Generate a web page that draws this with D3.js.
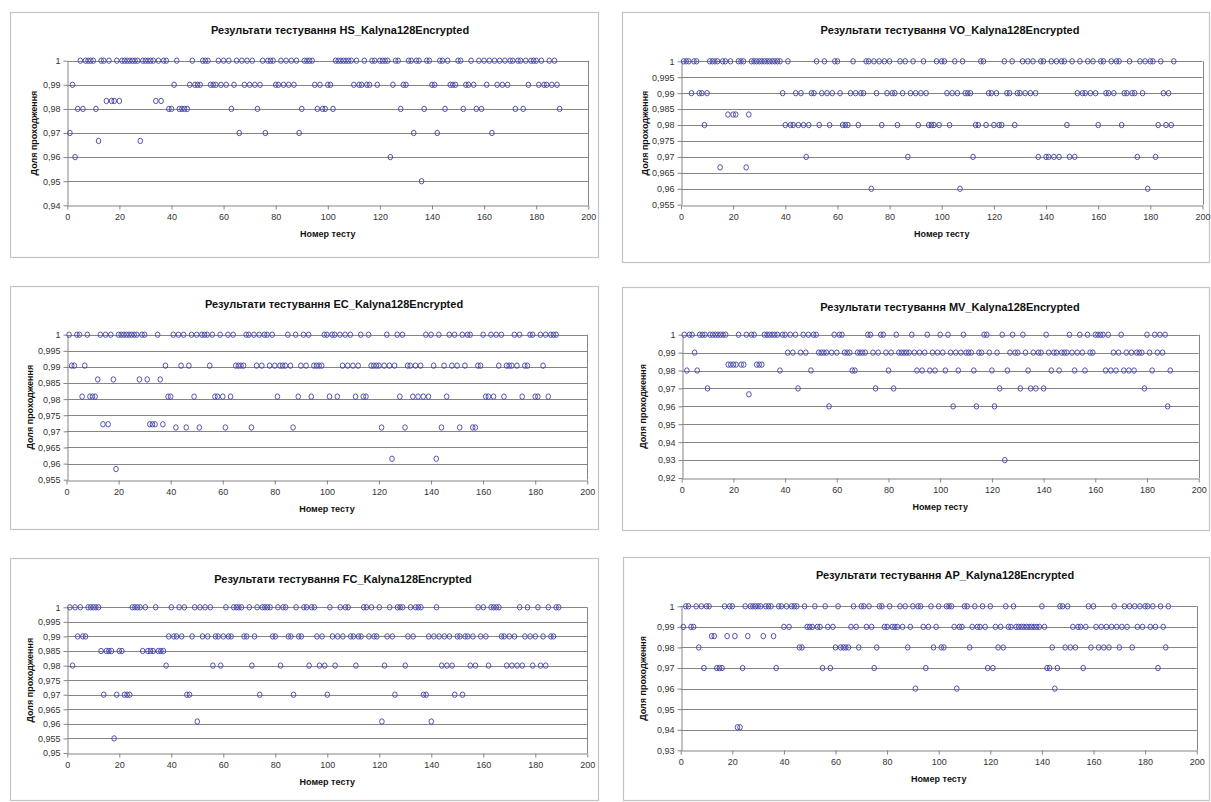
<!DOCTYPE html>
<html>
<head>
<meta charset="utf-8">
<script src="https://cdn.jsdelivr.net/npm/d3@7"></script>
<style>
  body { margin: 0; background: #ffffff; }
  text { font-family: "Liberation Sans", Arial, sans-serif; }
</style>
</head>
<body>
<svg id="chart" width="1211" height="802"></svg>
<script>
// Proportion of passing sequences per test, one value per test number
const hsValues = [
  0.97,0.99,0.96,0.98,1,0.98,1,1,1,1,
  0.98,0.9667,1,1,0.9833,1,0.9833,0.9833,1,0.9833,
  1,1,1,1,1,1,1,0.9667,1,1,
  1,1,1,0.9833,1,0.9833,1,1,0.98,0.98,
  0.99,1,0.98,0.98,0.98,0.98,0.99,1,0.99,0.99,
  0.99,1,1,1,0.99,0.99,0.99,1,0.99,1,
  0.99,1,0.98,0.99,1,0.97,1,0.99,1,0.99,
  1,0.99,0.98,0.99,1,0.97,1,1,1,0.99,
  0.99,1,0.99,1,0.99,1,0.99,1,0.97,0.98,
  1,1,1,1,0.99,0.98,0.99,0.98,0.98,0.99,
  0.99,0.98,1,1,1,1,1,1,1,0.99,
  1,0.99,0.99,1,0.99,0.99,1,1,0.99,1,
  1,1,1,0.96,0.99,1,1,0.98,0.99,0.99,
  1,1,0.97,1,1,0.95,0.98,1,1,0.99,
  0.99,0.97,1,1,0.98,1,0.99,0.99,0.99,1,
  1,0.98,0.99,0.99,1,0.99,0.98,1,0.98,1,
  0.99,1,0.97,1,0.99,1,0.99,1,0.99,1,
  1,0.98,1,1,0.98,1,0.99,1,1,1,
  0.99,1,0.99,0.99,1,0.99,1,0.99,0.98
];
const voValues = [
  1,1,1,0.99,1,1,0.99,0.99,0.98,0.99,
  1,1,1,1,0.9667,1,1,0.9833,1,0.9833,
  0.9833,1,1,1,0.9667,0.9833,1,1,1,1,
  1,1,1,1,1,1,1,1,0.99,0.98,
  1,0.98,0.98,0.99,0.98,0.99,0.98,0.97,0.98,0.99,
  0.99,1,0.98,0.99,1,0.99,0.98,0.99,1,1,
  0.99,0.98,0.98,0.98,0.99,1,0.99,0.98,0.99,0.99,
  1,1,0.96,1,0.99,1,0.98,1,0.99,1,
  0.99,0.99,0.98,1,0.99,1,0.97,0.99,1,0.99,
  0.98,0.99,1,0.99,0.98,0.98,0.98,1,0.98,1,
  1,0.99,0.98,0.99,1,0.99,0.96,1,0.99,0.99,
  0.99,0.97,0.98,0.98,1,1,0.98,0.99,0.99,0.98,
  0.99,0.98,0.98,1,0.99,0.99,1,0.98,0.99,0.99,
  1,0.99,1,0.99,1,0.99,0.97,1,1,0.97,
  0.97,1,0.97,1,0.97,1,1,0.98,0.97,1,
  0.97,0.99,1,0.99,0.99,1,0.99,1,0.99,0.98,
  1,1,0.99,0.99,1,0.99,1,1,0.98,0.99,
  0.99,1,0.99,0.99,0.97,1,0.99,1,0.96,1,
  1,0.97,0.98,1,0.99,0.98,0.99,0.98,1
];
const ecValues = [
  1,0.9904,0.9904,1,1,0.9808,0.9904,1,0.9808,0.9808,
  0.9808,0.9861,1,0.9722,1,0.9722,1,0.9861,0.9583,1,
  1,1,1,1,1,1,1,0.9861,1,1,
  0.9861,0.9722,0.9722,0.9722,1,0.9861,0.9722,0.9904,0.9808,0.9808,
  1,0.9712,1,0.9904,1,0.9712,0.9904,1,0.9808,1,
  0.9712,1,1,1,0.9904,1,0.9808,0.9808,1,0.9808,
  0.9712,1,0.9808,1,0.9904,0.9904,0.9904,0.9904,1,1,
  0.9712,1,0.9904,1,0.9904,1,1,0.9904,1,0.9904,
  0.9808,0.9904,0.9904,0.9904,1,0.9904,0.9712,1,0.9808,0.9904,
  1,0.9904,1,0.9808,0.9904,0.9904,0.9904,0.9904,1,1,
  0.9808,1,1,0.9808,1,0.9904,1,0.9904,1,0.9904,
  0.9808,0.9904,1,0.9808,0.9808,1,0.9904,0.9904,0.9904,0.9904,
  0.9712,0.9904,1,0.9904,0.9615,0.9904,1,0.9808,1,0.9712,
  0.9904,0.9904,0.9808,0.9904,0.9808,0.9904,0.9808,1,0.9808,1,
  0.9904,0.9615,1,0.9712,0.9904,0.9808,1,0.9904,1,0.9904,
  0.9712,1,0.9904,1,1,0.9712,0.9712,0.9904,0.9904,1,
  0.9808,0.9808,1,0.9808,1,0.9904,1,0.9808,0.9904,0.9904,
  0.9904,1,0.9904,1,0.9808,0.9904,0.9904,1,1,0.9808,
  0.9808,1,0.9904,1,0.9808,1,1,1
];
const mvValues = [
  1,0.98,1,1,0.99,0.98,1,1,1,0.97,
  1,1,1,1,1,1,1,0.9833,0.9833,0.9833,
  0.9833,1,0.9833,0.9833,1,0.9667,1,1,0.9833,0.9833,
  0.9833,1,1,1,1,1,1,0.98,1,1,
  0.99,1,0.99,1,0.97,0.99,1,0.99,1,0.98,
  1,1,0.99,0.99,0.99,0.99,0.96,0.99,1,0.99,
  1,1,0.99,0.99,0.99,0.98,0.98,0.99,0.99,0.99,
  0.99,1,1,0.99,0.97,0.99,1,1,0.99,0.98,
  0.99,0.97,1,0.99,0.99,0.99,0.99,0.99,1,0.99,
  0.98,0.99,0.98,0.99,1,0.98,0.99,0.98,0.99,1,
  0.99,0.98,1,0.99,0.96,0.99,0.98,0.99,1,0.99,
  0.99,0.99,0.98,0.96,0.99,0.99,1,1,0.99,0.98,
  0.96,0.99,0.97,1,0.93,0.98,0.99,1,0.99,0.99,
  0.97,1,0.99,0.98,0.97,0.99,0.97,0.99,0.99,0.97,
  1,0.99,0.98,0.99,0.99,0.98,0.99,0.99,0.99,1,
  0.99,0.98,0.99,1,0.99,0.98,1,0.99,0.99,1,
  1,1,1,0.98,1,0.98,0.99,0.98,0.99,1,
  0.98,0.99,0.98,0.99,0.98,0.99,0.99,0.99,0.97,1,
  0.99,0.98,1,0.99,1,0.99,1,0.96,0.98
];
const fcValues = [
  1,0.98,1,0.99,1,0.99,0.99,1,1,1,
  1,1,0.985,0.97,0.985,0.985,0.985,0.955,0.97,0.985,
  0.985,0.97,0.97,0.97,1,1,1,1,0.985,1,
  0.985,0.985,0.985,1,0.985,0.985,0.985,0.98,0.99,1,
  0.99,0.99,1,0.99,1,0.97,0.97,0.99,1,0.9608,
  1,0.99,1,0.99,1,0.98,0.99,0.99,0.98,0.99,
  1,0.99,0.99,1,1,1,1,0.99,0.99,1,
  0.98,0.99,1,0.97,1,1,1,1,0.99,0.99,
  1,0.98,1,1,0.99,0.99,0.97,1,0.99,0.99,
  1,1,0.98,1,1,0.99,0.98,0.99,0.98,0.97,
  1,0.99,0.98,0.99,1,0.99,1,1,0.99,0.99,
  0.98,0.99,0.99,1,1,0.99,1,0.99,0.99,1,
  0.9608,0.98,0.99,1,0.99,0.97,1,1,1,0.98,
  0.99,1,0.99,1,1,1,0.97,0.97,0.99,0.9608,
  0.99,1,0.99,0.98,0.99,0.98,0.99,0.98,0.97,0.99,
  0.99,0.97,0.99,0.99,0.98,0.99,0.98,1,0.99,1,
  0.99,0.98,1,1,1,1,0.99,0.99,0.98,0.99,
  0.98,0.99,0.98,1,0.98,0.99,1,0.99,0.98,0.99,
  1,0.98,0.99,0.98,1,0.99,0.99,1,1
];
const apValues = [
  0.99,1,1,0.99,0.99,1,0.98,1,0.97,1,
  1,0.9855,0.9855,0.97,0.97,0.97,1,0.9855,1,1,
  0.9855,0.9412,0.9412,0.97,1,0.9855,1,1,1,1,
  1,0.9855,1,1,1,0.9855,0.97,1,1,0.99,
  1,0.99,1,1,1,0.98,0.98,1,0.99,0.99,
  0.99,1,0.99,0.99,0.97,1,0.99,0.97,0.99,0.98,
  1,0.98,0.98,0.98,0.98,0.99,1,0.99,0.98,1,
  1,0.99,1,0.99,0.97,0.98,1,1,0.99,0.99,
  1,0.99,0.99,0.99,1,0.99,1,0.98,0.99,1,
  0.96,1,1,0.99,0.97,0.99,1,0.98,0.99,1,
  0.98,0.98,1,1,1,0.99,0.96,0.99,0.99,1,
  1,0.98,0.99,1,0.99,0.99,1,0.99,0.97,1,
  0.97,0.99,0.98,0.99,0.98,1,0.99,0.99,1,0.99,
  0.99,0.99,0.99,0.99,0.99,0.99,0.99,0.99,0.99,1,
  0.99,0.97,0.97,0.98,0.96,0.97,1,1,0.98,1,
  0.98,0.99,0.98,0.99,0.99,0.97,0.99,1,0.98,1,
  0.99,0.98,0.99,0.98,0.99,0.98,0.99,1,0.99,0.98,
  0.99,1,0.99,1,0.98,1,0.99,1,0.99,1,
  1,0.99,1,0.99,0.97,1,0.99,0.98,1
];

// Axis ticks
const xTicks = [0, 20, 40, 60, 80, 100, 120, 140, 160, 180, 200];
const hsTicks = [0.94, 0.95, 0.96, 0.97, 0.98, 0.99, 1];
const voTicks = [0.955, 0.96, 0.965, 0.97, 0.975, 0.98, 0.985, 0.99, 0.995, 1];
const ecTicks = [0.955, 0.96, 0.965, 0.97, 0.975, 0.98, 0.985, 0.99, 0.995, 1];
const mvTicks = [0.92, 0.93, 0.94, 0.95, 0.96, 0.97, 0.98, 0.99, 1];
const fcTicks = [0.95, 0.955, 0.96, 0.965, 0.97, 0.975, 0.98, 0.985, 0.99, 0.995, 1];
const apTicks = [0.93, 0.94, 0.95, 0.96, 0.97, 0.98, 0.99, 1];

const titlePrefix = "Результати тестування ";
const seriesNames = ["HS", "VO", "EC", "MV", "FC", "AP"];
const yAxisTitle = "Доля проходження";
const xAxisTitle = "Номер тесту";

// Panel geometry: outer frame and plotting area (pixels)
const layout = [
  { frame: [10, 12, 588, 245],  plot: [67.3, 588.3, 60.7, 205.3], titleX: 340, titleY: 34,  yTitleX: 34 },
  { frame: [622, 12, 587, 250], plot: [681, 1202.5, 61.3, 204.7], titleX: 950, titleY: 34,  yTitleX: 645 },
  { frame: [10, 286, 588, 243], plot: [66.5, 587.3, 334.7, 479.7], titleX: 334, titleY: 308, yTitleX: 30 },
  { frame: [622, 287, 587, 243], plot: [681.7, 1198.7, 334.7, 478], titleX: 950, titleY: 311, yTitleX: 643 },
  { frame: [10, 558, 588, 242], plot: [67.3, 587.3, 607.3, 753], titleX: 343, titleY: 583, yTitleX: 30 },
  { frame: [623, 557, 586, 243], plot: [680.7, 1196.7, 606.3, 750.3], titleX: 945, titleY: 579, yTitleX: 643 }
];

const panels = [
  { name: seriesNames[0], values: hsValues, ticks: hsTicks },
  { name: seriesNames[1], values: voValues, ticks: voTicks },
  { name: seriesNames[2], values: ecValues, ticks: ecTicks },
  { name: seriesNames[3], values: mvValues, ticks: mvTicks },
  { name: seriesNames[4], values: fcValues, ticks: fcTicks },
  { name: seriesNames[5], values: apValues, ticks: apTicks }
];

const locale = d3.formatLocale({ decimal: ",", thousands: " ", grouping: [3], currency: ["", ""] });
const yFormat = locale.format("~g");

const svg = d3.select("#chart");
svg.append("rect").attr("width", 1211).attr("height", 802).attr("fill", "#ffffff");

panels.forEach((p, i) => {
  const L = layout[i];
  const [fx, fy, fw, fh] = L.frame;
  const [left, right, top, bottom] = L.plot;
  const g = svg.append("g");

  g.append("rect")
    .attr("x", fx + 0.5).attr("y", fy + 0.5)
    .attr("width", fw).attr("height", fh)
    .attr("fill", "#ffffff").attr("stroke", "#c4c4c4").attr("stroke-width", 1.2);

  const x = d3.scaleLinear().domain([0, 200]).range([left, right]);
  const y = d3.scaleLinear().domain([p.ticks[0], 1]).range([bottom, top]);

  // horizontal gridlines
  g.append("g").selectAll("line")
    .data(p.ticks.slice(1))
    .join("line")
    .attr("x1", left).attr("x2", right)
    .attr("y1", d => Math.round(y(d)) + 0.5).attr("y2", d => Math.round(y(d)) + 0.5)
    .attr("stroke", "#858585").attr("stroke-width", 1);

  // right border of the plot area
  g.append("line")
    .attr("x1", Math.round(right) + 0.5).attr("x2", Math.round(right) + 0.5)
    .attr("y1", top).attr("y2", bottom)
    .attr("stroke", "#858585");

  const yAxis = g.append("g")
    .attr("transform", `translate(${Math.round(left) + 0.5},0)`)
    .call(d3.axisLeft(y).tickValues(p.ticks).tickFormat(yFormat).tickSize(4).tickSizeOuter(0).tickPadding(3));
  const xAxis = g.append("g")
    .attr("transform", `translate(0,${Math.round(bottom) + 0.5})`)
    .call(d3.axisBottom(x).tickValues(xTicks).tickSize(4).tickSizeOuter(0).tickPadding(4));

  [yAxis, xAxis].forEach(ax => {
    ax.select(".domain").attr("stroke", "#858585");
    ax.selectAll(".tick line").attr("stroke", "#858585");
    ax.selectAll(".tick text").attr("fill", "#333333")
      .style("font-family", "'Liberation Sans', Arial, sans-serif").style("font-size", "9px");
  });

  // points
  g.append("g").selectAll("ellipse")
    .data(p.values)
    .join("ellipse")
    .attr("cx", (d, k) => x(k + 1))
    .attr("cy", d => y(d))
    .attr("rx", 2.3)
    .attr("ry", 2.7)
    .attr("fill", "none")
    .attr("stroke", "#4040a8")
    .attr("stroke-width", 0.9);

  g.append("text")
    .attr("x", L.titleX).attr("y", L.titleY)
    .attr("text-anchor", "middle")
    .attr("font-size", "11px").attr("font-weight", "bold").attr("fill", "#111")
    .text(titlePrefix + p.name + "_Kalyna128Encrypted");

  g.append("text")
    .attr("x", (left + right) / 2).attr("y", bottom + 32)
    .attr("text-anchor", "middle")
    .attr("font-size", "9px").attr("font-weight", "bold").attr("fill", "#111")
    .text(xAxisTitle);

  g.append("text")
    .attr("transform", `translate(${L.yTitleX},${(top + bottom) / 2}) rotate(-90)`)
    .attr("text-anchor", "middle")
    .attr("dy", "0.35em")
    .attr("font-size", "9px").attr("font-weight", "bold").attr("fill", "#111")
    .text(yAxisTitle);
});
</script>
</body>
</html>
